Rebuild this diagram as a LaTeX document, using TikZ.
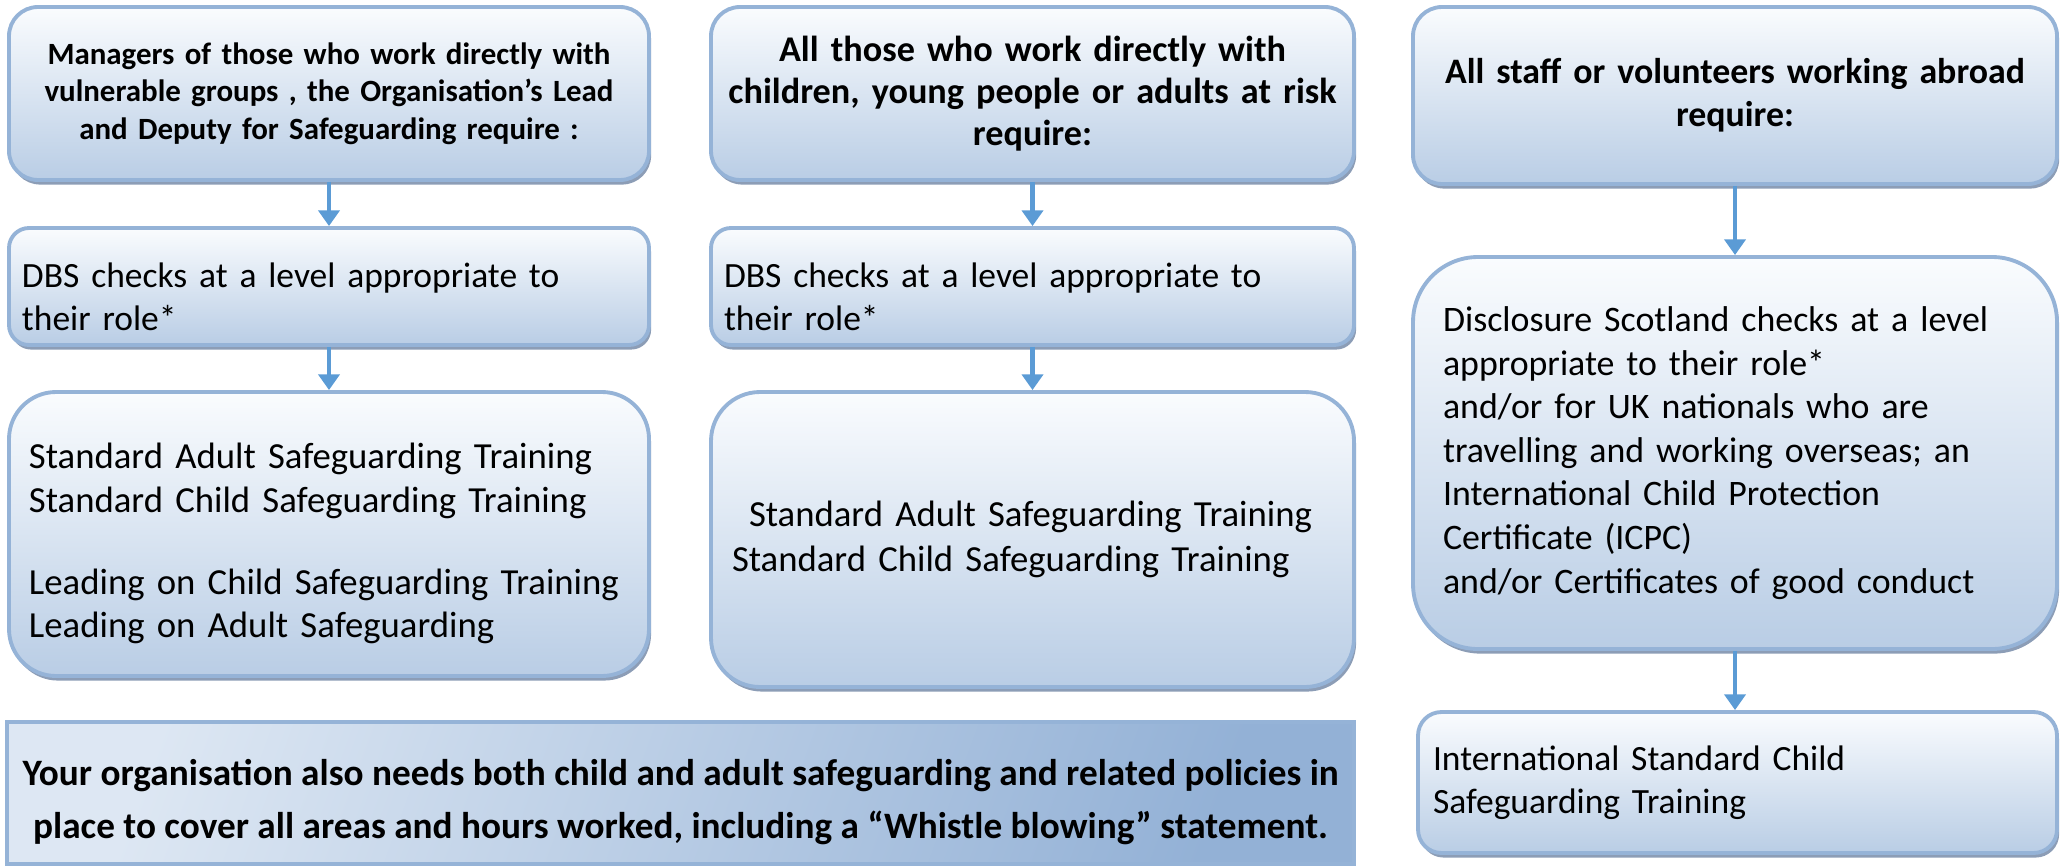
\documentclass[tikz,border=0pt]{standalone}
\usepackage{fontspec}
\setmainfont{Carlito}
\usepackage{tikz}
\usetikzlibrary{arrows.meta,shadows,positioning}

\definecolor{boxline}{HTML}{95B3D7}
\definecolor{boxtop}{HTML}{FAFCFE}
\definecolor{boxbot}{HTML}{B9CDE5}
\definecolor{boxshadow}{HTML}{8C9DB6}
\definecolor{flowarrow}{HTML}{5B9BD5}
\definecolor{bannerleft}{HTML}{DDE7F3}
\definecolor{bannerright}{HTML}{93B1D6}

\begin{document}
\begin{tikzpicture}[reqbox/.style = {draw=boxline, line width=1.1pt, top color=boxtop, bottom color=boxbot,
        drop shadow={shadow xshift=0.6pt, shadow yshift=-1.3pt, fill=boxshadow, opacity=1},
        inner ysep=0pt, align=left, font=\fontsize{10.1}{12.3}\selectfont},
      headbox/.style = {reqbox, align=center, inner xsep=0.1cm},
      flow/.style = {-{Triangle[length=4.5pt,width=6pt]}, draw=flowarrow, line width=1.3pt}]
    \useasboundingbox (0,0) rectangle (20.65,-8.66);
    % left column
    \node [headbox, text width=6.20cm, minimum height=1.73cm, rounded corners=0.29cm,
      font=\bfseries\fontsize{8.8}{10.7}\selectfont] (mgrhead) at (3.29,-0.935)
      {Managers of those who work directly with\\ vulnerable groups , the Organisation’s Lead\\ and Deputy for Safeguarding require :};
    \node [reqbox, text width=6.14cm, inner xsep=0.13cm, minimum height=1.17cm, rounded corners=0.2cm]
      (mgrdbs) at (3.29,-2.865) {\rule{0pt}{12.7pt}DBS checks at a level appropriate to\\ their role*};
    \node [reqbox, text width=6.00cm, inner xsep=0.20cm, minimum height=2.84cm, rounded corners=0.47cm,
      font=\fontsize{10.45}{12.3}\selectfont]
      (mgrtrain) at (3.29,-5.34) {\rule{0pt}{12.7pt}Standard Adult Safeguarding Training\\ Standard Child Safeguarding Training\\[11pt]
      Leading on Child Safeguarding Training\\ Leading on Adult Safeguarding};
    % middle column
    \node [headbox, text width=6.23cm, minimum height=1.73cm, rounded corners=0.29cm,
      font=\bfseries\fontsize{10.3}{12}\selectfont] (staffhead) at (10.325,-0.935)
      {All those who work directly with\\ children, young people or adults at risk\\ require:};
    \node [reqbox, text width=6.17cm, inner xsep=0.13cm, minimum height=1.17cm, rounded corners=0.2cm]
      (staffdbs) at (10.325,-2.865) {\rule{0pt}{12.7pt}DBS checks at a level appropriate to\\ their role*};
    \node [reqbox, text width=6.01cm, inner xsep=0.21cm, minimum height=2.95cm, rounded corners=0.49cm,
      font=\fontsize{10.45}{12.8}\selectfont]
      (stafftrain) at (10.325,-5.395) {\hspace*{0.17cm}Standard Adult Safeguarding Training\\ Standard Child Safeguarding Training};
    % right column
    \node [headbox, text width=6.24cm, minimum height=1.77cm, rounded corners=0.29cm,
      font=\bfseries\fontsize{10.2}{12.3}\selectfont] (abroadhead) at (17.35,-0.955)
      {All staff or volunteers working abroad\\ require:};
    \node [reqbox, text width=5.84cm, inner xsep=0.30cm, minimum height=3.92cm, rounded corners=0.65cm,
      font=\fontsize{10.2}{12.4}\selectfont]
      (abroadchk) at (17.35,-4.53) {Disclosure Scotland checks at a level\\ appropriate to their role*\\
      and/or for UK nationals who are\\ travelling and working overseas; an\\ International Child Protection\\
      Certificate (ICPC)\\ and/or Certificates of good conduct};
    \node [reqbox, text width=6.09cm, inner xsep=0.15cm, minimum height=1.41cm, rounded corners=0.235cm]
      (abroadtrain) at (17.375,-7.825) {International Standard Child\\ Safeguarding Training};
    % policy banner
    \node [draw=boxline, line width=1.1pt, left color=bannerleft, right color=bannerright, shading angle=70,
      minimum width=13.47cm, minimum height=1.42cm, align=center,
      font=\bfseries\fontsize{10.6}{15.2}\selectfont] (policy) at (6.805,-7.93)
      {\rule{0pt}{12.6pt}Your organisation also needs both child and adult safeguarding and related policies in\\
      place to cover all areas and hours worked, including a “Whistle blowing” statement.};
    % arrows
    \draw [flow] (mgrhead.south) -- (mgrdbs.north);
    \draw [flow] (mgrdbs.south) -- (mgrtrain.north);
    \draw [flow] (staffhead.south) -- (staffdbs.north);
    \draw [flow] (staffdbs.south) -- (stafftrain.north);
    \draw [flow] (abroadhead.south) -- (abroadchk.north);
    \draw [flow] (abroadchk.south) -- (abroadchk.south |- abroadtrain.north);
\end{tikzpicture}
\end{document}
